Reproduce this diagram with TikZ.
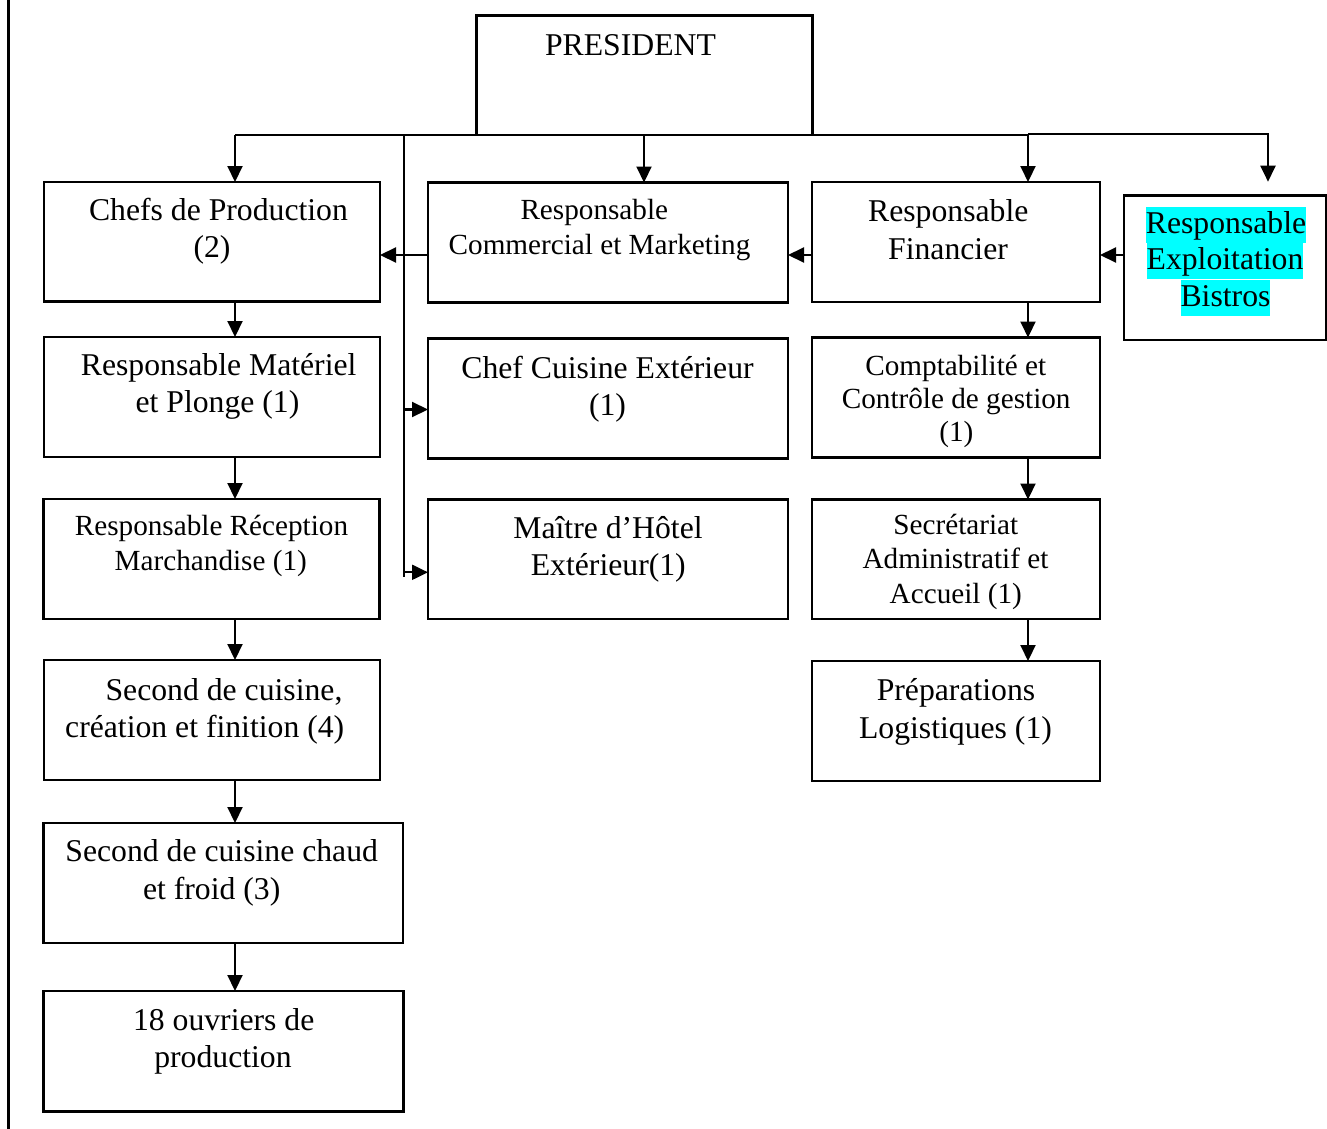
\documentclass[tikz,border=0pt]{standalone}
\usepackage{fontspec}
\setmainfont{Liberation Serif}
\usetikzlibrary{arrows.meta}
\definecolor{hlcyan}{RGB}{0,255,255}
\begin{document}
\begin{tikzpicture}[x=1pt,y=-1pt,
  box/.style={draw, line width=2.1pt, inner sep=0pt, outer sep=0pt, anchor=north west},
  tm/.style={anchor=base, inner sep=0pt, font=\fontsize{31.7}{38}\selectfont},
  ts/.style={anchor=base, inner sep=0pt, font=\fontsize{29.2}{34}\selectfont},
  hl/.style={tm, fill=hlcyan, text height=26.3pt, text depth=9.7pt},
  conn/.style={line width=2.1pt},
  arr/.style={conn, -{Triangle[length=16pt,width=15pt]}}]
\useasboundingbox (0,0) rectangle (1327,1129);
% left frame line
\draw[line width=2.4pt] (8.3,0) -- (8.3,1129);

% boxes
\node[box, minimum width=336pt, minimum height=119.5pt] (pres) at (476.5,15.5) {};
\node[box, minimum width=336pt, minimum height=119.5pt] (chefs) at (44,182) {};
\node[box, minimum width=360pt, minimum height=120pt] (rcm) at (428,182.5) {};
\node[box, minimum width=288pt, minimum height=120pt] (rf) at (812,182) {};
\node[box, minimum width=202pt, minimum height=144.5pt] (bis) at (1124,195.5) {};
\node[box, minimum width=336pt, minimum height=120pt] (mat) at (44,337) {};
\node[box, minimum width=336pt, minimum height=120pt] (rec) at (43.5,499) {};
\node[box, minimum width=336pt, minimum height=120pt] (sec1) at (44,660) {};
\node[box, minimum width=359.5pt, minimum height=120pt] (sec2) at (43.5,823) {};
\node[box, minimum width=360pt, minimum height=120.5pt] (ouv) at (43.5,991) {};
\node[box, minimum width=360pt, minimum height=120pt] (cce) at (428,338.5) {};
\node[box, minimum width=360pt, minimum height=119.5pt] (mdh) at (428,499.5) {};
\node[box, minimum width=288pt, minimum height=120pt] (cpt) at (812,337.5) {};
\node[box, minimum width=288pt, minimum height=119.5pt] (secr) at (812,499.5) {};
\node[box, minimum width=288pt, minimum height=120pt] (prep) at (812,661) {};

% texts
\node[tm] (tpres) at (630.5,56) {PRESIDENT};
\node[tm] (tch1) at (218.5,220) {Chefs de Production};
\node[tm] (tch2) at (212,257) {(2)};
\node[ts] (trc1) at (594.3,219.5) {Responsable};
\node[ts] (trc2) at (599.5,254) {Commercial et Marketing};
\node[tm] (trf1) at (948.3,221) {Responsable};
\node[tm] (trf2) at (948,259) {Financier};
\node[hl] (tbi1) at (1226,233) {Responsable};
\node[hl] (tbi2) at (1225,269.3) {Exploitation};
\node[hl] (tbi3) at (1225.5,306) {Bistros};
\node[tm] (tma1) at (218.7,375) {Responsable Matériel};
\node[tm] (tma2) at (217.5,412.5) {et Plonge (1)};
\node[ts] (tre1) at (211.5,535) {Responsable Réception};
\node[ts] (tre2) at (210.8,570) {Marchandise (1)};
\node[tm] (tsa1) at (224,700) {Second de cuisine,};
\node[tm] (tsa2) at (204.7,737.5) {création et finition (4)};
\node[tm] (tsb1) at (221.7,861.5) {Second de cuisine chaud};
\node[tm] (tsb2) at (211.7,899) {et froid (3)};
\node[tm] (tou1) at (223.7,1030) {18 ouvriers de};
\node[tm] (tou2) at (223,1067) {production};
\node[tm] (tce1) at (607.5,378.3) {Chef Cuisine Extérieur};
\node[tm] (tce2) at (607.5,415) {(1)};
\node[tm] (tmd1) at (608,538.3) {Maître d’Hôtel};
\node[tm] (tmd2) at (608.3,575) {Extérieur(1)};
\node[ts] (tcp1) at (955.8,375) {Comptabilité et};
\node[ts] (tcp2) at (956.2,408.3) {Contrôle de gestion};
\node[ts] (tcp3) at (956.3,441.7) {(1)};
\node[ts] (tse1) at (955.8,534) {Secrétariat};
\node[ts] (tse2) at (955.5,568.3) {Administratif et};
\node[ts] (tse3) at (955.8,603) {Accueil (1)};
\node[tm] (tpr1) at (956,700) {Préparations};
\node[tm] (tpr2) at (955.5,738) {Logistiques (1)};

% reference coordinates
\coordinate (colL) at (235,0);
\coordinate (colM) at (644,0);
\coordinate (colR) at (1028,0);
\coordinate (vx) at (404,0);
\coordinate (vEnd) at (404,577);
\coordinate (busB) at (0,134);
\coordinate (bisTip) at (1268,181.7);
\coordinate (yh) at (0,255);
\coordinate (y1) at (0,409.5);
\coordinate (y2) at (0,572.3);

% top bus
\draw[conn] (colL |- pres.south) -- (colR |- pres.south);
\draw[arr] (colL |- pres.south) -- (colL |- chefs.north);
\draw[arr] (colM |- pres.south) -- (colM |- rcm.north);
\draw[arr] (colR |- pres.south) -- (colR |- rf.north);
\draw[arr] (colR |- busB) -| (bisTip);
\draw[conn] (vx |- pres.south) -- (vEnd);
\draw[arr] (vx |- y1) -- (cce.west |- y1);
\draw[arr] (vx |- y2) -- (mdh.west |- y2);

% horizontal arrows
\draw[arr] (rcm.west |- yh) -- (chefs.east |- yh);
\draw[arr] (rf.west |- yh) -- (rcm.east |- yh);
\draw[arr] (bis.west |- yh) -- (rf.east |- yh);

% left column
\draw[arr] (colL |- chefs.south) -- (colL |- mat.north);
\draw[arr] (colL |- mat.south) -- (colL |- rec.north);
\draw[arr] (colL |- rec.south) -- (colL |- sec1.north);
\draw[arr] (colL |- sec1.south) -- (colL |- sec2.north);
\draw[arr] (colL |- sec2.south) -- (colL |- ouv.north);

% right column
\draw[arr] (colR |- rf.south) -- (colR |- cpt.north);
\draw[arr] (colR |- cpt.south) -- (colR |- secr.north);
\draw[arr] (colR |- secr.south) -- (colR |- prep.north);
\end{tikzpicture}
\end{document}
